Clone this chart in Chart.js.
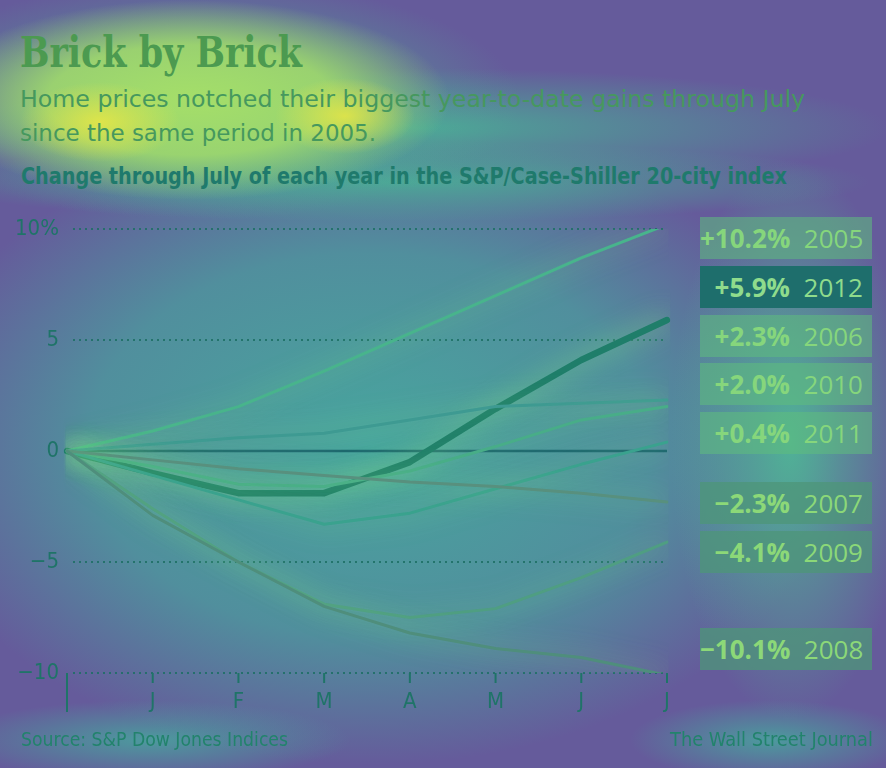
<!DOCTYPE html>
<html>
<head>
<meta charset="utf-8">
<script src="https://cdn.jsdelivr.net/npm/chart.js@4.4.1/dist/chart.umd.min.js"></script>
<style>
  html, body { margin: 0; padding: 0; }
  body {
    width: 886px; height: 768px; overflow: hidden; position: relative;
    background: #655b9b;
  }
  #glow {
    position: absolute; left: 0; top: 0; width: 886px; height: 768px;
    background:
      radial-gradient(ellipse 80px 40px at 100px 122px, rgba(238,232,65,0.8), rgba(238,232,65,0) 100%),
      radial-gradient(ellipse 70px 38px at 345px 116px, rgba(238,232,65,0.8), rgba(238,232,65,0) 100%),
      radial-gradient(ellipse 260px 100px at 190px 100px, rgba(165,222,105,1), rgba(165,222,105,0.85) 55%, rgba(165,222,105,0) 100%),
      radial-gradient(ellipse 320px 120px at 200px 100px, rgba(80,175,150,0.95), rgba(80,175,150,0) 100%),
      radial-gradient(ellipse 470px 60px at 420px 128px, rgba(75,170,150,0.95), rgba(75,170,150,0) 100%),
      radial-gradient(ellipse 470px 40px at 400px 182px, rgba(75,170,150,0.95), rgba(75,170,150,0) 100%),
      radial-gradient(ellipse 120px 280px at 790px 440px, rgba(80,178,150,1), rgba(80,178,150,0) 100%),
      radial-gradient(ellipse 470px 320px at 370px 445px, rgba(72,165,158,1), rgba(72,165,158,0.7) 60%, rgba(72,165,158,0) 100%),
      radial-gradient(ellipse 200px 40px at 150px 740px, rgba(72,165,158,0.85), rgba(72,165,158,0) 100%),
      radial-gradient(ellipse 140px 40px at 770px 740px, rgba(72,165,158,0.85), rgba(72,165,158,0) 100%);
  }
  .txt {
    position: absolute; white-space: nowrap; line-height: 1;
    transform-origin: 0 0;
  }
  .narrow { font-family: 'Liberation Sans Narrow', 'DejaVu Sans Condensed', 'Roboto', 'Liberation Sans', sans-serif; }
  #title {
    left: 20px; top: 31px; font-family: 'DejaVu Serif', 'Liberation Serif', serif;
    font-weight: bold; font-size: 43px; color: #4c9a50;
  }
  .sub { font-size: 23px; color: #46985e; }
  #sub1 { left: 20px; top: 88px; }
  #sub2 { left: 20px; top: 122px; }
  #subhead { left: 21px; top: 165px; font-size: 23px; font-weight: bold; color: #1f7a6c; }
  #source { left: 21px; top: 729px; font-size: 20px; color: #22836c; }
  #credit { left: 670px; top: 729px; font-size: 20px; color: #22836c; }
  #chartWrap { position: absolute; left: 0; top: 200px; width: 700px; height: 530px; }
  .box {
    position: absolute; left: 700px; width: 172px; height: 42px;
    box-sizing: border-box; padding-right: 9px; text-align: right;
    font-family: 'Open Sans', 'Noto Sans', sans-serif; font-size: 26px; line-height: 42px;
    color: #86d67c; background: rgba(95,190,125,0.55);
    white-space: nowrap;
  }
  .box b { font-weight: bold; }
  .box.hi { background: #1e6e6c; color: #8fdc8c; }
  .box.neg { background: rgba(78,150,120,0.75); color: #8cd878; }
</style>
</head>
<body>
<div id="glow"></div>
<div id="title" class="txt" data-w="282">Brick by Brick</div>
<div id="sub1" class="txt narrow sub" data-w="785">Home prices notched their biggest year-to-date gains through July</div>
<div id="sub2" class="txt narrow sub" data-w="356">since the same period in 2005.</div>
<div id="subhead" class="txt narrow" data-w="766">Change through July of each year in the S&amp;P/Case-Shiller 20-city index</div>
<div id="chartWrap"><canvas id="c" width="700" height="530"></canvas></div>
<div id="boxes"></div>
<div id="source" class="txt narrow" data-w="267">Source: S&amp;P Dow Jones Indices</div>
<div id="credit" class="txt narrow" data-w="203">The Wall Street Journal</div>

<script>
// ---- data ----
const months = ['', 'J', 'F', 'M', 'A', 'M', 'J', 'J'];
const years = ['2005', '2012', '2006', '2010', '2011', '2007', '2009', '2008'];
const y2005 = [0, 0.9, 2.0, 3.6, 5.3, 7.0, 8.7, 10.2];
const y2012 = [0, -1.0, -1.9, -1.9, -0.5, 1.9, 4.1, 5.9];
const y2006 = [0, 0.3, 0.6, 0.8, 1.4, 2.0, 2.15, 2.3];
const y2010 = [0, -0.7, -1.5, -1.6, -0.9, 0.2, 1.4, 2.0];
const y2011 = [0, -1.1, -2.2, -3.3, -2.8, -1.7, -0.6, 0.4];
const y2007 = [0, -0.4, -0.8, -1.1, -1.4, -1.6, -1.9, -2.3];
const y2009 = [0, -2.6, -5.0, -6.9, -7.5, -7.1, -5.7, -4.1];
const y2008 = [0, -2.9, -5.0, -7.0, -8.2, -8.9, -9.3, -10.1];
const finalChange = ['+10.2%', '+5.9%', '+2.3%', '+2.0%', '+0.4%', '\u22122.3%', '\u22124.1%', '\u221210.1%'];
const yTicks = [10, 5, 0, -5, -10];

// ---- layout / style (not data) ----
const boxTops = [217, 266, 315, 363, 412, 482, 531, 628];
const boxClass = ['', 'hi', '', '', '', 'neg', 'neg', 'neg'];

const seriesData = { '2005': y2005, '2012': y2012, '2006': y2006, '2010': y2010,
  '2011': y2011, '2007': y2007, '2009': y2009, '2008': y2008 };
const lineStyle = {
  '2005': { c: '#48b48c', w: 3 },
  '2012': { c: '#1f7e6a', w: 6.5 },
  '2006': { c: '#3e9a92', w: 3 },
  '2010': { c: '#48ad88', w: 3 },
  '2011': { c: '#3aa28e', w: 3 },
  '2007': { c: '#58907e', w: 3 },
  '2009': { c: '#4f9e82', w: 3 },
  '2008': { c: '#4f8e7c', w: 3 }
};

// boxes
const boxesEl = document.getElementById('boxes');
years.forEach((yr, i) => {
  const d = document.createElement('div');
  d.className = 'box ' + boxClass[i];
  d.style.top = boxTops[i] + 'px';
  d.innerHTML = '<b>' + finalChange[i] + '</b>&nbsp; ' + yr;
  boxesEl.appendChild(d);
});

// fit narrow text widths
function fitAll() {
  document.querySelectorAll('[data-w]').forEach(el => {
    el.style.transform = 'none';
    const w = el.getBoundingClientRect().width;
    const t = parseFloat(el.dataset.w);
    if (w > 0) el.style.transform = 'scaleX(' + (t / w) + ')';
  });
}
fitAll();

const tickFont = { family: "'Liberation Sans Narrow', 'DejaVu Sans Condensed', 'Roboto', sans-serif", size: 22 };
const axisColor = '#1f7468';

const decor = {
  id: 'decor',
  beforeDatasetsDraw(chart) {
    const { ctx, chartArea: a, scales: { x, y } } = chart;
    ctx.save();
    // dotted grid lines
    ctx.strokeStyle = 'rgba(28,110,100,0.85)';
    ctx.lineWidth = 2;
    ctx.setLineDash([2, 4]);
    yTicks.forEach(v => {
      if (v === 0) return;
      const py = Math.round(y.getPixelForValue(v));
      ctx.beginPath();
      ctx.moveTo(a.left + 6, py);
      ctx.lineTo(a.right, py);
      ctx.stroke();
    });
    ctx.setLineDash([]);
    // zero line
    const p0 = y.getPixelForValue(0);
    ctx.strokeStyle = '#1d6670';
    ctx.lineWidth = 2.5;
    ctx.beginPath();
    ctx.moveTo(a.left, p0);
    ctx.lineTo(a.right, p0);
    ctx.stroke();
    // month ticks
    ctx.strokeStyle = axisColor;
    ctx.lineWidth = 2;
    months.forEach((m, i) => {
      const px = x.getPixelForValue(i);
      ctx.beginPath();
      ctx.moveTo(px, a.bottom);
      ctx.lineTo(px, a.bottom + (i === 0 ? 39 : 10));
      ctx.stroke();
    });
    ctx.restore();
    // glow for lines
    ctx.save();
    ctx.shadowColor = 'rgba(130,225,130,0.8)';
    ctx.shadowBlur = 26;
  },
  afterDatasetsDraw(chart) {
    chart.ctx.restore();
  }
};

const datasets = years.slice().reverse().map(yr => ({
  label: yr,
  data: seriesData[yr],
  borderColor: lineStyle[yr].c,
  borderWidth: lineStyle[yr].w,
  pointRadius: 0,
  tension: 0,
  fill: false,
  borderCapStyle: 'round',
  borderJoinStyle: 'round'
}));
// draw 2012 on top
datasets.sort((a, b) => (a.label === '2012') - (b.label === '2012'));

new Chart(document.getElementById('c'), {
  type: 'line',
  data: { labels: months, datasets },
  options: {
    responsive: false,
    animation: false,
    events: [],
    layout: { padding: { top: 29, right: 33, bottom: 0, left: 0 } },
    plugins: { legend: { display: false }, tooltip: { enabled: false } },
    scales: {
      x: {
        type: 'category',
        offset: false,
        grid: { display: false },
        border: { display: false },
        ticks: { color: axisColor, font: tickFont, padding: 8, maxRotation: 0, autoSkip: false },
        afterFit(s) { s.height = 57; }
      },
      y: {
        min: -10, max: 10,
        afterBuildTicks(s) { s.ticks = yTicks.map(v => ({ value: v })); },
        grid: { display: false },
        border: { display: false },
        ticks: {
          color: axisColor, font: tickFont, padding: 0,
          callback: v => v === 10 ? '10%' : (v < 0 ? '\u2212' + Math.abs(v) : String(v))
        },
        afterFit(s) { s.width = 67; }
      }
    }
  },
  plugins: [decor]
});
</script>
</body>
</html>
